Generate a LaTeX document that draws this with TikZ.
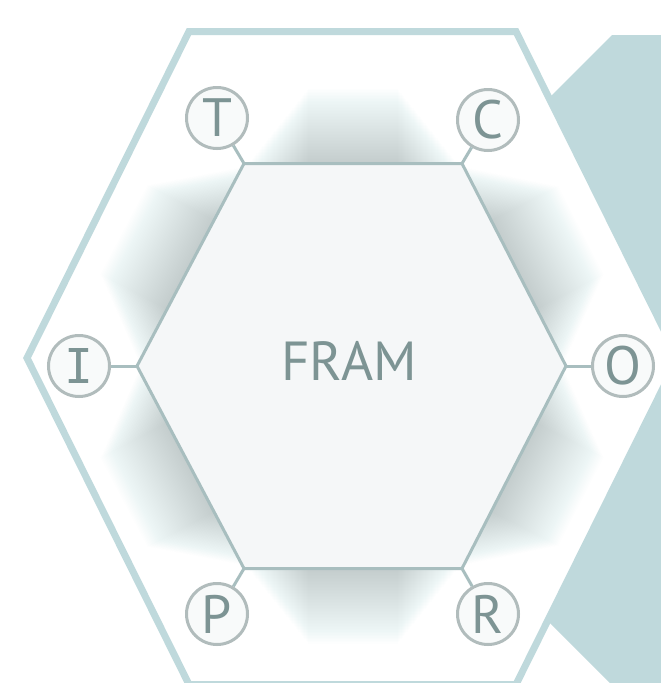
\documentclass[tikz,border=0pt]{standalone}
\usepackage{fontspec}
\setmainfont{PT Sans}
\newfontfamily\serifI{DejaVu Sans Mono}
\definecolor{tealfill}{HTML}{BFD9DC}
\definecolor{hexline}{HTML}{A8BEBF}
\definecolor{innerf}{HTML}{F5F7F8}
\definecolor{circc}{HTML}{B1BCBC}
\definecolor{circf}{HTML}{F8FAFA}
\definecolor{letc}{HTML}{7D9494}
\definecolor{glowc}{HTML}{98B6B9}
\begin{document}
\begin{tikzpicture}[x=1pt,y=-1pt,
  outerhex/.style={draw=tealfill, fill=white, line width=7pt, line join=miter},
  innerhex/.style={draw=hexline, fill=innerf, line width=3pt, line join=round},
  stub/.style={draw=hexline, line width=3pt},
  letter/.style={circle, draw=circc, fill=circf, line width=3pt, minimum size=61pt,
    inner sep=0pt, text=letc, font=\fontsize{54}{54}\selectfont},
  title/.style={text=letc, font=\fontsize{55}{55}\selectfont, inner sep=0pt}]
\useasboundingbox (0,0) rectangle (661,683);
\clip (0,0) rectangle (661,683);
% right teal area
\fill[tealfill] (612,35) -- (661,35) -- (661,683) -- (610,683) -- (410,483) -- (412,235) -- cycle;
% outer hexagon
\coordinate (o1) at (27,358);
\coordinate (o2) at (189,31.5);
\coordinate (o3) at (516,31.5);
\coordinate (o4) at (678,358);
\coordinate (o5) at (516,684.5);
\coordinate (o6) at (189,684.5);
\path[outerhex] (o1) -- (o2) -- (o3) -- (o4) -- (o5) -- (o6) -- cycle;
% inner hexagon vertices
\coordinate (v1) at (137,366);
\coordinate (v2) at (244,163.5);
\coordinate (v3) at (462,163.5);
\coordinate (v4) at (566,366);
\coordinate (v5) at (462,568.5);
\coordinate (v6) at (244,568.5);
% soft glow around the inner hexagon
\foreach \a/\b in {v1/v2,v2/v3,v3/v4,v4/v5,v5/v6,v6/v1}{
  \foreach \w in {6,9,...,150}{
    \pgfmathsetmacro\s{4+0.40*\w}
    \draw[glowc, opacity=0.011, line width=\w pt, shorten <=\s pt, shorten >=\s pt] (\a) -- (\b);
  }
}
\path[innerhex] (v1) -- (v2) -- (v3) -- (v4) -- (v5) -- (v6) -- cycle;
% circles
\node[letter] (T) at (217,118) {T};
\node[letter] (C) at (488,120) {C};
\node[letter] (I) at (79,366) {\serifI\fontsize{48}{48}\selectfont I};
\node[letter] (O) at (623,366) {O};
\node[letter] (P) at (217,614) {P};
\node[letter] (R) at (488,614) {R};
\draw[stub] (T) -- (v2);
\draw[stub] (C) -- (v3);
\draw[stub] (I) -- (v1);
\draw[stub] (O) -- (v4);
\draw[stub] (P) -- (v6);
\draw[stub] (R) -- (v5);
\node[title, anchor=base] (fram) at (349,380) {FRAM};
\end{tikzpicture}
\end{document}
